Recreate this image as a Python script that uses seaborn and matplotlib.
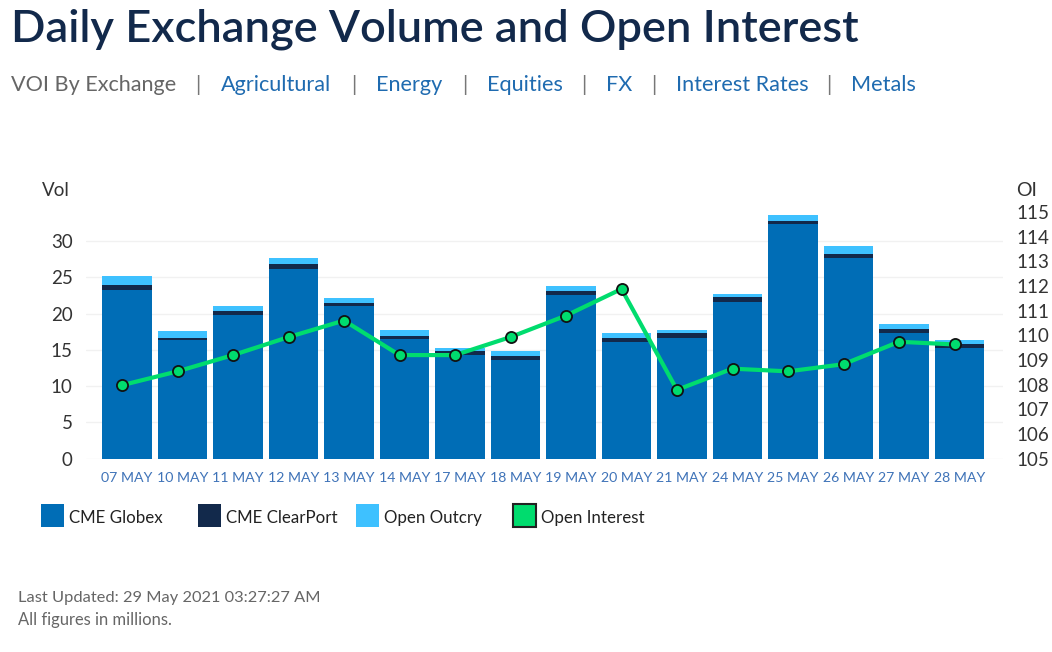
import numpy as np
import pandas as pd
import matplotlib
matplotlib.use("Agg")
import matplotlib.pyplot as plt
from matplotlib.patches import Rectangle
import seaborn as sns

days = ["07 MAY", "10 MAY", "11 MAY", "12 MAY", "13 MAY", "14 MAY", "17 MAY", "18 MAY",
        "19 MAY", "20 MAY", "21 MAY", "24 MAY", "25 MAY", "26 MAY", "27 MAY", "28 MAY"]
globex = [23.3, 16.3, 19.8, 26.2, 21.05, 16.5, 14.25, 13.6,
          22.5, 16.1, 16.7, 21.65, 32.4, 27.65, 17.3, 15.25]
clearport = [0.6, 0.4, 0.55, 0.6, 0.4, 0.4, 0.6, 0.55,
             0.6, 0.6, 0.6, 0.65, 0.4, 0.6, 0.6, 0.55]
outcry = [1.3, 0.85, 0.7, 0.85, 0.7, 0.85, 0.4, 0.7,
          0.65, 0.6, 0.45, 0.4, 0.85, 1.05, 0.65, 0.5]
open_interest = [107.98, 108.54, 109.2, 109.93, 110.6, 109.2, 109.2, 109.93,
                 110.8, 111.88, 107.79, 108.65, 108.54, 108.83, 109.74, 109.63]
vol_ticks = [0, 5, 10, 15, 20, 25, 30]
oi_ticks = [105, 106, 107, 108, 109, 110, 111, 112, 113, 114, 115]

nav_labels = ["VOI By Exchange", "Agricultural", "Energy", "Equities", "FX", "Interest Rates", "Metals"]
nav_x = [11, 221, 376, 487, 606, 676, 851]
sep_x = [198, 354, 465, 584, 654, 829]
legend_labels = ["CME Globex", "CME ClearPort", "Open Outcry", "Open Interest"]
legend_x = [41, 198, 356, 513]

C_GLOBEX = "#006db6"
C_CLEAR = "#12294b"
C_OUTCRY = "#3ec1ff"
C_OI = "#00dc6e"

W, H = 1052, 652
sns.set_theme(style="white")
plt.rcParams["font.family"] = ["Lato", "DejaVu Sans"]

fig = plt.figure(figsize=(W / 100, H / 100), dpi=100)
ax = fig.add_axes([86 / W, 1 - 458.7 / H, (1003 - 86) / W, (458.7 - 212) / H])


def px_text(x, y, s, **kw):
    fig.text(x / W, 1 - y / H, s, va="center", **kw)


df = pd.DataFrame({"day": days, "globex": globex, "clearport": clearport, "outcry": outcry})
bottom_clear = df["globex"]
bottom_outcry = df["globex"] + df["clearport"]

# no edges, seaborn's default white edge shows up as gaps in the stack
flat = dict(saturation=1, width=0.9, ax=ax, zorder=2, linewidth=0)
sns.barplot(data=df, x="day", y="globex", color=C_GLOBEX, **flat)
sns.barplot(data=df, x="day", y="clearport", bottom=bottom_clear, color=C_CLEAR, **flat)
sns.barplot(data=df, x="day", y="outcry", bottom=bottom_outcry, color=C_OUTCRY, **flat)

ax.set_xlim((86 - 127) / 55.5, (1003 - 127) / 55.5)
ax.set_ylim(0, 34)
ax.set_yticks(vol_ticks)
ax.grid(axis="y", color="#f1f1f1", linewidth=1)
ax.set_axisbelow(True)
ax.set_xlabel("")
ax.set_ylabel("")
ax.tick_params(axis="x", length=0, pad=9.5, labelsize=10.2, labelcolor="#3f73b8")
ax.tick_params(axis="y", length=0, pad=9.5, labelsize=13.5, labelcolor="#333333")
sns.despine(ax=ax, left=True, bottom=True, right=True, top=True)

# line sits a little left of the bar centres in the original
ax2 = ax.twinx()
oi_df = pd.DataFrame({"x": np.arange(len(days)) - 0.09, "oi": open_interest})
sns.lineplot(data=oi_df, x="x", y="oi", color=C_OI, linewidth=3, marker="o", markersize=8,
             markerfacecolor=C_OI, markeredgecolor="#111111", markeredgewidth=1.3, ax=ax2, zorder=5)
ax2.set_ylim(105, 115)
ax2.set_yticks(oi_ticks)
ax2.set_xlabel("")
ax2.set_ylabel("")
ax2.grid(False)
ax2.tick_params(axis="y", length=0, pad=9.5, labelsize=13.5, labelcolor="#333333")
sns.despine(ax=ax2, left=True, bottom=True, right=True, top=True)

px_text(42, 190, "Vol", fontsize=13.5, color="#333333")
px_text(1016, 190, "OI", fontsize=14, color="#333333")

# header
px_text(11, 29, "Daily Exchange Volume and Open Interest", fontsize=32.6, color="#12294b", fontweight="semibold")
for i, (label, x) in enumerate(zip(nav_labels, nav_x)):
    px_text(x, 85, label, fontsize=15.6, color="#666666" if i == 0 else "#1f6bb0")
for x in sep_x:
    px_text(x, 85, "|", fontsize=15, color="#777777", ha="center")

# legend
legend_colors = [C_GLOBEX, C_CLEAR, C_OUTCRY, C_OI]
for i, (label, x) in enumerate(zip(legend_labels, legend_x)):
    is_line = i == 3
    fig.add_artist(Rectangle((x / W, 1 - 527 / H), 23 / W, 23 / H, transform=fig.transFigure,
                             facecolor=legend_colors[i], edgecolor="#222222" if is_line else "none",
                             linewidth=1.5 if is_line else 0))
    px_text(x + 28, 518, label, fontsize=12.2, color="#222222")

px_text(18, 598, "Last Updated: 29 May 2021 03:27:27 AM", fontsize=11.8, color="#666666")
px_text(18, 620, "All figures in millions.", fontsize=11.9, color="#666666")

fig.savefig("out.png", dpi=100, facecolor="white")
